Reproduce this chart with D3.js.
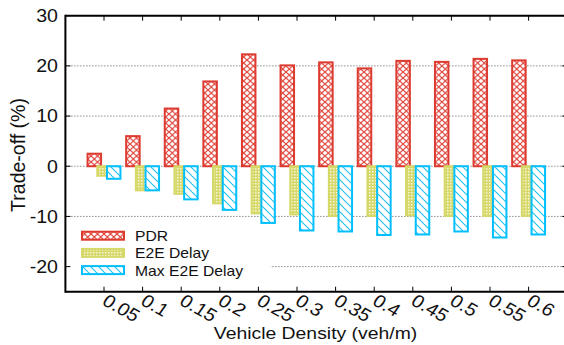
<!DOCTYPE html>
<html>
<head>
<meta charset="utf-8">
<script src="https://cdn.jsdelivr.net/npm/d3@7/dist/d3.min.js"></script>
<style>
  html, body { margin: 0; padding: 0; background: #fff; }
  svg { display: block; font-family: "Liberation Sans", Arial, sans-serif; }
</style>
</head>
<body>
<div id="chart"></div>
<script>
// values
const densities = ['0.05', '0.1', '0.15', '0.2', '0.25', '0.3', '0.35', '0.4', '0.45', '0.5', '0.55', '0.6'];
const pdr = [2.5, 6.0, 11.5, 16.9, 22.3, 20.1, 20.7, 19.5, 21.0, 20.8, 21.4, 21.1];
const e2eDelay = [-1.9, -4.8, -5.5, -7.4, -9.4, -9.6, -9.9, -9.9, -9.8, -9.9, -9.9, -9.9];
const maxE2eDelay = [-2.5, -4.8, -6.6, -8.7, -11.3, -12.8, -13.0, -13.7, -13.6, -13.0, -14.2, -13.6];
const yTicks = [-20, -10, 0, 10, 20, 30];
const seriesNames = ['PDR', 'E2E Delay', 'Max E2E Delay'];

const W = 564, H = 345;
const plotL = 65.4, plotR = 567.2, plotT = 15.7, plotB = 291.7;
const sx = 1.18; // text in the picture is stretched horizontally

const svg = d3.select('#chart').append('svg')
  .attr('width', W)
  .attr('height', H);

const defs = svg.append('defs');

// crosshatch for PDR
const px = defs.append('pattern').attr('id', 'pdr').attr('patternUnits', 'userSpaceOnUse')
  .attr('width', 6.5).attr('height', 6);
px.append('rect').attr('width', 6.5).attr('height', 6).attr('fill', '#fff');
px.append('path').attr('d', 'M0,0L6.5,6M6.5,0L0,6').attr('stroke', '#e0453c').attr('stroke-width', 1.2);

// fine checker for E2E delay
const pc = defs.append('pattern').attr('id', 'e2e').attr('patternUnits', 'userSpaceOnUse')
  .attr('width', 3).attr('height', 3);
pc.append('rect').attr('width', 3).attr('height', 3).attr('fill', '#d6d96a');
pc.append('rect').attr('width', 1.5).attr('height', 1.5).attr('fill', '#f6f6da');

// diagonal lines for max E2E delay
const pd = defs.append('pattern').attr('id', 'maxe2e').attr('patternUnits', 'userSpaceOnUse')
  .attr('width', 8).attr('height', 8);
pd.append('rect').attr('width', 8).attr('height', 8).attr('fill', '#fff');
pd.append('path').attr('d', 'M0,0L8,8M-4,4L0,8M4,-4L12,4').attr('stroke', '#1ec0f0').attr('stroke-width', 1.1);

const fills = ['url(#pdr)', 'url(#e2e)', 'url(#maxe2e)'];
const strokes = ['#dd3a30', '#d6d96a', '#00bfff'];
const offsets = [-9.7, 0, 9.7];
const barW = 13.5;

const x = d3.scalePoint().domain(densities).range([plotL, plotR]).padding(1);
const y = d3.scaleLinear().domain([-25, 30]).range([plotB, plotT]);

// grid
svg.append('g').selectAll('line')
  .data(yTicks.filter(d => d < 30))
  .join('line')
  .attr('x1', plotL).attr('x2', plotR)
  .attr('y1', d => y(d)).attr('y2', d => y(d))
  .attr('stroke', '#555')
  .attr('stroke-width', 1)
  .attr('stroke-dasharray', '1,2');

// bars
[pdr, e2eDelay, maxE2eDelay].forEach((vals, s) => {
  svg.append('g').selectAll('rect')
    .data(vals)
    .join('rect')
    .attr('x', (d, i) => x(densities[i]) + offsets[s] - barW / 2)
    .attr('width', barW)
    .attr('y', d => y(Math.max(0, d)))
    .attr('height', d => Math.abs(y(d) - y(0)))
    .attr('fill', fills[s])
    .attr('stroke', strokes[s])
    .attr('stroke-width', 2);
});

// legend
const legend = svg.append('g');
legend.append('rect')
  .attr('x', plotL + 1).attr('y', 226).attr('width', 204).attr('height', 54)
  .attr('fill', '#fff');
seriesNames.forEach((name, s) => {
  const cy = 235.7 + s * 17.2;
  legend.append('rect')
    .attr('x', 82).attr('y', cy - 4).attr('width', 42).attr('height', 8)
    .attr('fill', fills[s]).attr('stroke', strokes[s]).attr('stroke-width', 2);
  legend.append('text')
    .attr('transform', `translate(135,${cy + 5.5}) scale(1.12,1)`)
    .attr('font-size', 14)
    .attr('fill', '#111')
    .text(name);
});

// frame
const frame = svg.append('g').attr('stroke', '#000').attr('stroke-width', 2);
frame.append('line').attr('x1', plotL).attr('x2', plotR).attr('y1', plotT).attr('y2', plotT);
frame.append('line').attr('x1', plotL).attr('x2', plotR).attr('y1', plotB).attr('y2', plotB);
frame.append('line').attr('x1', plotL).attr('x2', plotL).attr('y1', plotT - 1).attr('y2', plotB + 1);

// x ticks top and bottom, inward
const xt = svg.append('g').attr('stroke', '#000').attr('stroke-width', 1);
densities.forEach(d => {
  xt.append('line').attr('x1', x(d)).attr('x2', x(d)).attr('y1', plotT).attr('y2', plotT + 5);
  xt.append('line').attr('x1', x(d)).attr('x2', x(d)).attr('y1', plotB).attr('y2', plotB - 5);
});
yTicks.forEach(v => {
  xt.append('line').attr('x1', plotL).attr('x2', plotL + 5).attr('y1', y(v)).attr('y2', y(v));
  xt.append('line').attr('x1', plotR).attr('x2', plotR - 5).attr('y1', y(v)).attr('y2', y(v));
});

// y tick labels
svg.append('g').selectAll('text')
  .data(yTicks)
  .join('text')
  .attr('transform', d => `translate(58,${y(d) + 6.3}) scale(1.12,1)`)
  .attr('text-anchor', 'end')
  .attr('font-size', 17.5)
  .attr('fill', '#111')
  .text(d => d);

// x tick labels, rotated
svg.append('g').selectAll('text')
  .data(densities)
  .join('text')
  .attr('transform', d => `translate(${x(d) - 3},304) scale(1.12,1) rotate(32)`)
  .attr('font-size', 18)
  .attr('fill', '#111')
  .text(d => d);

// axis titles
svg.append('text')
  .attr('transform', `translate(315.5,338.5) scale(1.12,1)`)
  .attr('text-anchor', 'middle')
  .attr('font-size', 17.3)
  .attr('fill', '#111')
  .text('Vehicle Density (veh/m)');

svg.append('text')
  .attr('transform', `translate(25,155) rotate(-90)`)
  .attr('text-anchor', 'middle')
  .attr('font-size', 19.5)
  .attr('fill', '#111')
  .text('Trade-off (%)');
</script>
</body>
</html>
